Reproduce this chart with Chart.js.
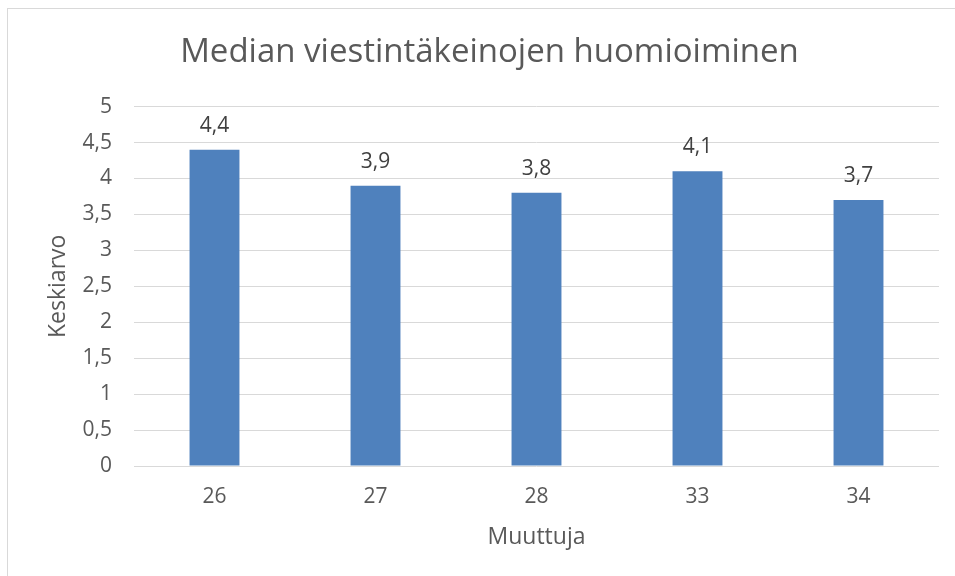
<!DOCTYPE html>
<html>
<head>
<meta charset="utf-8">
<script src="https://cdn.jsdelivr.net/npm/chart.js@4/dist/chart.umd.min.js"></script>
<style>
  html, body { margin: 0; padding: 0; background: #fff; }
  #wrap { position: relative; width: 955px; height: 576px; }
  #frame { position: absolute; left: 7px; top: 8px; right: -5px; bottom: -5px;
           border-left: 1px solid #d9d9d9; border-top: 1px solid #d9d9d9; }
  canvas { position: absolute; left: 0; top: 0; }
</style>
</head>
<body>
<div id="wrap">
  <div id="frame"></div>
  <canvas id="chart" width="955" height="576"></canvas>
</div>
<script>
const categories = ['26', '27', '28', '33', '34'];
const averages = [4.4, 3.9, 3.8, 4.1, 3.7];
const yTicks = [0, 0.5, 1, 1.5, 2, 2.5, 3, 3.5, 4, 4.5, 5];

const fontFamily = '"Open Sans", Lato, sans-serif';
const textColor = '#595959';

function fi(v) {
  return String(v).replace('.', ',');
}

// values above the bars
const barLabels = {
  id: 'barLabels',
  afterDatasetsDraw(chart) {
    const ctx = chart.ctx;
    const meta = chart.getDatasetMeta(0);
    ctx.save();
    ctx.font = '21px ' + fontFamily;
    ctx.fillStyle = '#404040';
    ctx.textAlign = 'center';
    ctx.textBaseline = 'middle';
    meta.data.forEach((bar, i) => {
      ctx.fillText(fi(averages[i]), bar.x, bar.y - 24);
    });
    ctx.restore();
  }
};

new Chart(document.getElementById('chart'), {
  type: 'bar',
  data: {
    labels: categories,
    datasets: [{
      data: averages,
      backgroundColor: '#4f81bd',
      borderWidth: 0,
      barPercentage: 0.31,
      categoryPercentage: 1.0
    }]
  },
  options: {
    responsive: false,
    animation: false,
    layout: { padding: { left: 40, right: 16, top: 10, bottom: 10 } },
    plugins: {
      legend: { display: false },
      tooltip: { enabled: false },
      title: {
        display: true,
        text: 'Median viestintäkeinojen huomioiminen',
        color: textColor,
        font: { family: fontFamily, size: 33, weight: 'normal' },
        padding: { top: 23, bottom: 34 }
      }
    },
    scales: {
      x: {
        grid: { display: false, drawTicks: false },
        border: { display: false },
        ticks: { color: textColor, padding: 18, font: { family: fontFamily, size: 21 } },
        title: {
          display: true,
          text: 'Muuttuja',
          color: textColor,
          font: { family: fontFamily, size: 23 },
          padding: { top: 0, bottom: 15 }
        },
        afterFit(scale) { scale.height = 100; }
      },
      y: {
        min: 0,
        max: 5,
        afterBuildTicks(scale) { scale.ticks = yTicks.map(v => ({ value: v })); },
        grid: { color: '#d9d9d9', lineWidth: 1, drawTicks: false },
        border: { display: false },
        ticks: {
          color: textColor,
          padding: 22,
          font: { family: fontFamily, size: 21 },
          callback: v => fi(v)
        },
        title: {
          display: true,
          text: 'Keskiarvo',
          color: textColor,
          font: { family: fontFamily, size: 23 },
          padding: { top: 5, bottom: 0 }
        },
        afterFit(scale) { scale.width = 94; }
      }
    }
  },
  plugins: [barLabels]
});
</script>
</body>
</html>
